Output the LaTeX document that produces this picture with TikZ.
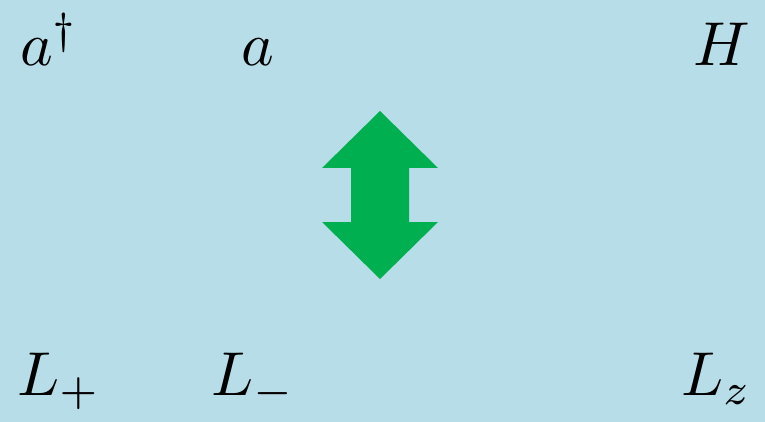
\documentclass[tikz,border=0pt]{standalone}
\usepackage{graphicx}
\definecolor{bgblue}{HTML}{B7DDE8}
\definecolor{arrowgreen}{HTML}{00B050}
\newcommand{\hugemath}[1]{\scalebox{6.2}{$#1$}}
\begin{document}
\begin{tikzpicture}[x=1pt,y=-1pt,
  lbl/.style={inner sep=0pt}]
\fill[bgblue] (0,0) rectangle (765,422);
\useasboundingbox (0,0) rectangle (765,422);
\fill[arrowgreen] (380,111) -- (438,168) -- (409,168) -- (409,222) -- (438,222)
  -- (380,279) -- (322,222) -- (351,222) -- (351,168) -- (322,168) -- cycle;
\node[lbl,anchor=base west] (adag) at (20,66) {\hugemath{a^{\dagger}}};
\node[lbl,anchor=base west] (a) at (241,66) {\hugemath{a}};
\node[lbl,anchor=base east] (H) at (750,66) {\hugemath{H}};
\node[lbl,anchor=base west] (Lp) at (17,395) {\hugemath{L_{+}}};
\node[lbl,anchor=base west] (Lm) at (211,395) {\hugemath{L_{-}}};
\node[lbl,anchor=base east] (Lz) at (752,395) {\hugemath{L_{z}}};
\end{tikzpicture}
\end{document}
